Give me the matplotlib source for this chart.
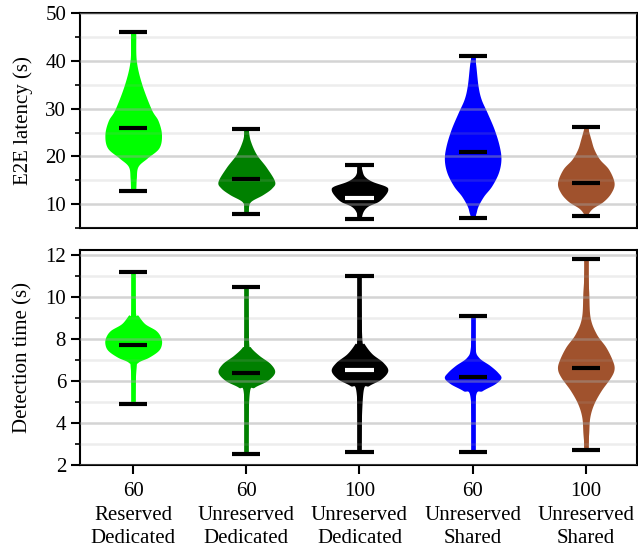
import numpy as np
import matplotlib.pyplot as plt
from matplotlib.ticker import MultipleLocator

# ---- data ----
POSITIONS = [1, 2, 3, 4, 5]
TICK_LABELS = [
    "60\nReserved\nDedicated",
    "60\nUnreserved\nDedicated",
    "100\nUnreserved\nDedicated",
    "60\nUnreserved\nShared",
    "100\nUnreserved\nShared",
]
COLORS = ["#00ff00", "#008000", "#000000", "#0000ff", "#a0522d"]
MEDIAN_COLORS = ["black", "black", "white", "black", "black"]

# E2E latency (s)
LAT_MAX = [46.1, 25.7, 18.3, 41.0, 26.2]
LAT_MIN = [12.7, 8.0, 6.9, 7.1, 7.5]
LAT_MED = [25.9, 15.3, 11.3, 20.9, 14.5]
LAT_PROFILE_Y = [
    [46.1, 45.7, 40.1, 35.2, 29.9, 27.5, 24.6, 21.8, 19.7, 17.9, 15.4, 13.1, 12.7],
    [25.7, 25.4, 23.3, 20.5, 17.7, 14.8, 13.4, 12.0, 10.6, 9.2, 8.0],
    [18.3, 17.3, 15.9, 14.8, 13.8, 13.1, 12.0, 10.6, 9.6, 8.5, 6.9],
    [41.0, 39.1, 34.8, 32.0, 29.2, 25.7, 22.2, 19.4, 16.6, 13.8, 11.7, 9.6, 8.2, 7.1],
    [26.2, 25.7, 23.6, 21.5, 19.4, 17.3, 14.5, 12.4, 10.6, 9.2, 8.2, 7.5],
]
LAT_DENSITY = [
    [0.05, 0.09, 0.11, 0.30, 0.64, 0.88, 1.00, 0.91, 0.50, 0.17, 0.11, 0.09, 0.05],
    [0.05, 0.07, 0.14, 0.35, 0.71, 1.00, 0.90, 0.58, 0.16, 0.07, 0.05],
    [0.05, 0.08, 0.17, 0.44, 0.91, 1.00, 0.91, 0.67, 0.30, 0.13, 0.05],
    [0.06, 0.11, 0.19, 0.30, 0.51, 0.76, 0.94, 1.00, 0.91, 0.67, 0.39, 0.19, 0.12, 0.06],
    [0.05, 0.08, 0.18, 0.29, 0.49, 0.81, 1.00, 0.89, 0.62, 0.25, 0.10, 0.05],
]

# Detection time (s)
DET_MAX = [11.2, 10.5, 11.0, 9.1, 11.8]
DET_MIN = [4.9, 2.5, 2.6, 2.6, 2.7]
DET_MED = [7.73, 6.39, 6.53, 6.18, 6.63]
DET_PROFILE_Y = [
    [11.2, 9.29, 9.13, 8.73, 8.41, 8.09, 7.77, 7.45, 7.13, 6.89, 6.58, 4.9],
    [10.5, 7.93, 7.61, 7.22, 6.82, 6.42, 6.02, 5.70, 5.38, 2.5],
    [11.0, 8.09, 7.77, 7.30, 6.89, 6.50, 6.10, 5.78, 5.46, 2.6],
    [9.1, 7.61, 7.13, 6.74, 6.42, 6.15, 5.86, 5.54, 5.22, 2.6],
    [11.8, 10.33, 9.05, 8.25, 7.61, 6.98, 6.58, 6.18, 5.54, 4.90, 4.26, 3.47, 2.7],
]
DET_DENSITY = [
    [0.03, 0.08, 0.17, 0.41, 0.80, 0.97, 1.00, 0.89, 0.55, 0.17, 0.10, 0.03],
    [0.03, 0.08, 0.15, 0.45, 0.85, 1.00, 0.74, 0.28, 0.10, 0.03],
    [0.03, 0.08, 0.17, 0.44, 0.83, 1.00, 0.77, 0.33, 0.12, 0.03],
    [0.03, 0.08, 0.21, 0.61, 0.88, 1.00, 0.78, 0.34, 0.09, 0.03],
    [0.02, 0.10, 0.15, 0.37, 0.71, 0.94, 1.00, 0.88, 0.54, 0.28, 0.14, 0.10, 0.05],
]


def set_font():
    plt.rcParams["font.family"] = ["Liberation Serif", "DejaVu Serif"]
    plt.rcParams["font.size"] = 15


def smooth_outline(ys, ds, steps=16):
    """Catmull-Rom 曲线，只用于把读出的轮廓点画得圆滑一些。"""
    pts = np.column_stack([ys, ds])
    pts = np.vstack([pts[0], pts, pts[-1]])
    out = []
    for k in range(1, len(pts) - 2):
        p0, p1, p2, p3 = pts[k - 1], pts[k], pts[k + 1], pts[k + 2]
        for t in np.linspace(0, 1, steps, endpoint=False):
            t2, t3 = t * t, t * t * t
            out.append(0.5 * ((2 * p1) + (-p0 + p2) * t
                              + (2 * p0 - 5 * p1 + 4 * p2 - p3) * t2
                              + (-p0 + 3 * p1 - 3 * p2 + p3) * t3))
    out.append(pts[-2])
    out = np.array(out)
    return out[:, 0], np.clip(out[:, 1], 0, None)


def draw_violins(ax, prof_y, prof_d, vmin, vmax, vmed, width=0.5):
    half = width / 2
    for i, x in enumerate(POSITIONS):
        ys, ds = smooth_outline(np.asarray(prof_y[i]), np.asarray(prof_d[i]))
        # 颜色竖线（极值之间）
        ax.vlines(x, vmin[i], vmax[i], color=COLORS[i], lw=3.4, zorder=1.5)
        ax.fill_betweenx(ys, x - half * ds, x + half * ds,
                         color=COLORS[i], lw=0, zorder=1)
        # 极值横线 + 中位数
        ax.hlines([vmin[i], vmax[i]], x - half / 2, x + half / 2,
                  color="black", lw=3.0, zorder=3)
        ax.hlines(vmed[i], x - half / 2, x + half / 2,
                  color=MEDIAN_COLORS[i], lw=3.0, zorder=3)


def style_axes(ax):
    ax.set_axisbelow(False)
    ax.yaxis.grid(True, which="major", color="#a0a0a0", alpha=0.45, lw=1.8)
    ax.yaxis.grid(True, which="minor", color="#a0a0a0", alpha=0.18, lw=1.8)
    for sp in ax.spines.values():
        sp.set_linewidth(1.5)
    ax.tick_params(axis="y", which="major", length=6.5, width=1.5)
    ax.tick_params(axis="y", which="minor", length=3.5, width=1.2)
    ax.tick_params(axis="x", which="major", length=6.5, width=1.5, pad=6)
    ax.set_xlim(0.53, 5.45)


def main():
    set_font()
    fig = plt.figure(figsize=(6.38, 5.47), dpi=100)

    ax1 = fig.add_axes([0.1254, 0.583, 0.8726, 0.393])
    ax2 = fig.add_axes([0.1254, 0.150, 0.8726, 0.393])

    draw_violins(ax1, LAT_PROFILE_Y, LAT_DENSITY, LAT_MIN, LAT_MAX, LAT_MED)
    style_axes(ax1)
    ax1.set_ylim(5, 50)
    ax1.yaxis.set_major_locator(MultipleLocator(10))
    ax1.yaxis.set_minor_locator(MultipleLocator(5))
    ax1.set_xticks(POSITIONS)
    ax1.tick_params(axis="x", bottom=False, labelbottom=False)
    ax1.set_ylabel("E2E latency (s)", labelpad=9)

    draw_violins(ax2, DET_PROFILE_Y, DET_DENSITY, DET_MIN, DET_MAX, DET_MED)
    style_axes(ax2)
    ax2.set_ylim(2, 12.24)
    ax2.yaxis.set_major_locator(MultipleLocator(2))
    ax2.yaxis.set_minor_locator(MultipleLocator(1))
    ax2.set_xticks(POSITIONS)
    ax2.set_xticklabels(TICK_LABELS, linespacing=1.3)
    ax2.set_ylabel("Detection time (s)", labelpad=9)

    fig.align_ylabels([ax1, ax2])
    fig.savefig("out.png", dpi=100)
    plt.close(fig)


if __name__ == "__main__":
    main()
